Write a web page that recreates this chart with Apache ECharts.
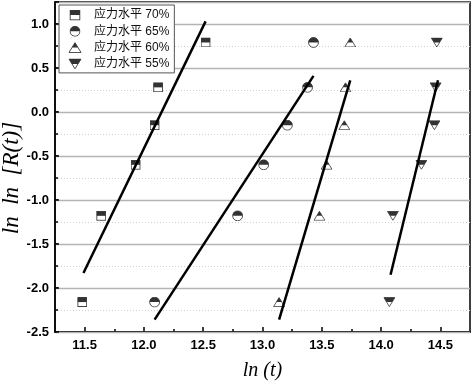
<!DOCTYPE html>
<html><head><meta charset="utf-8">
<script src="https://cdn.jsdelivr.net/npm/echarts@6/dist/echarts.min.js"></script>
<style>html,body{margin:0;padding:0;background:#fff}#c{width:472px;height:386px}</style>
</head><body><div id="c"></div>
<script>
// ---- data ----
const seriesNames = ['应力水平 70%', '应力水平 65%', '应力水平 60%', '应力水平 55%'];
const lnlnR = [-2.16, -1.18, -0.60, -0.15, 0.28, 0.79];
const lnT70 = [11.48, 11.64, 11.93, 12.09, 12.12, 12.52];
const lnT65 = [12.09, 12.79, 13.01, 13.21, 13.38, 13.43];
const lnT60 = [13.14, 13.48, 13.54, 13.69, 13.70, 13.74];
const lnT55 = [14.07, 14.10, 14.34, 14.45, 14.46, 14.47];
// fitted lines: [x start, x end], [y start, y end]
const fit70X = [11.49, 12.52], fit70Y = [-1.83, 1.03];
const fit65X = [12.09, 13.43], fit65Y = [-2.36, 0.41];
const fit60X = [13.14, 13.74], fit60Y = [-2.36, 0.36];
const fit55X = [14.08, 14.48], fit55Y = [-1.85, 0.36];
const xMajorTicks = [11.5, 12.0, 12.5, 13.0, 13.5, 14.0, 14.5];
const xMinorTicks = [11.75, 12.25, 12.75, 13.25, 13.75, 14.25];
const yTickLabels = [-2.5, -2.0, -1.5, -1.0, -0.5, 0.0, 0.5, 1.0];

function svgUrl(s){return 'image://data:image/svg+xml;charset=utf-8,' + encodeURIComponent(s);}
const W = 'xmlns="http://www.w3.org/2000/svg"';
const symSquare = svgUrl(`<svg ${W} width="20" height="20" viewBox="0 0 20 20"><rect x="1" y="1" width="18" height="18" fill="#fff" stroke="#000" stroke-width="2"/><rect x="1" y="1" width="18" height="9" fill="#000"/></svg>`);
const symCircle = svgUrl(`<svg ${W} width="20" height="20" viewBox="0 0 20 20"><circle cx="10" cy="10" r="9" fill="#fff" stroke="#000" stroke-width="1.6"/><path d="M1,10 A9,9 0 0 1 19,10 Z" fill="#000"/></svg>`);
const symUp = svgUrl(`<svg ${W} width="24" height="20" viewBox="0 0 24 20"><polygon points="12,1 23,19 1,19" fill="#fff" stroke="#000" stroke-width="1.6"/><polygon points="12,1 17.5,10 6.5,10" fill="#000"/></svg>`);
const symDown = svgUrl(`<svg ${W} width="24" height="20" viewBox="0 0 24 20"><polygon points="1,1 23,1 12,19" fill="#fff" stroke="#000" stroke-width="1.6"/><polygon points="1,1 23,1 17.5,10 6.5,10" fill="#000"/></svg>`);

const zip = (xs, ys) => xs.map((x, i) => [x, ys[i]]);
const FONT = '"Liberation Sans", "Noto Sans CJK SC", Arial, sans-serif';
const SERIF = '"Liberation Serif", "Times New Roman", serif';

const chart = echarts.init(document.getElementById('c'), null, {renderer: 'canvas'});
const scatter = (name, xs, sym, size) => ({
  name, type: 'scatter', data: zip(xs, lnlnR), symbol: sym, symbolSize: size,
  xAxisIndex: 0, yAxisIndex: 0, z: 3, emphasis: {disabled: true}
});
const line = (name, xs, ys) => ({
  name, type: 'line', data: zip(xs, ys), showSymbol: false, symbol: 'none',
  lineStyle: {color: '#000', width: 2.5}, z: 4, xAxisIndex: 0, yAxisIndex: 0,
  emphasis: {disabled: true}
});

chart.setOption({
  animation: false,
  backgroundColor: '#fff',
  grid: {left: 55, right: 2, top: 2, bottom: 54, show: true, borderColor: '#000', borderWidth: 1.5, containLabel: false},
  legend: {
    data: seriesNames, orient: 'vertical', left: 59, top: 5,
    itemWidth: 28, itemHeight: 11, itemGap: 4.3,
    padding: [4, 5, 3, 2], backgroundColor: '#fff', borderColor: '#555', borderWidth: 1,
    textStyle: {fontFamily: FONT, fontSize: 12, color: '#111'}, selectedMode: false
  },
  xAxis: [{
    type: 'value', min: 11.25, max: 14.75, interval: 0.25,
    axisLine: {onZero: false, lineStyle: {color: '#000', width: 1.5}},
    axisTick: {inside: true, length: 5, customValues: xMajorTicks, lineStyle: {color: '#000', width: 1.5}},
    axisLabel: {customValues: xMajorTicks, color: '#000', fontFamily: FONT, fontSize: 13, fontWeight: 'bold', margin: 7,
      formatter: v => v.toFixed(1)},
    splitLine: {show: false},
    name: 'ln (t)', nameLocation: 'middle', nameGap: 29,
    nameTextStyle: {fontFamily: SERIF, fontStyle: 'italic', fontSize: 20, color: '#000'}
  }, {
    type: 'value', min: 11.25, max: 14.75, interval: 0.25, position: 'bottom',
    axisLine: {show: false, onZero: false},
    axisTick: {inside: true, length: 3, customValues: xMinorTicks, lineStyle: {color: '#000', width: 1.5}},
    axisLabel: {show: false}, splitLine: {show: false}
  }],
  yAxis: [{
    type: 'value', min: -2.5, max: 1.25, interval: 0.5, z: 2,
    axisLine: {onZero: false, lineStyle: {color: '#000', width: 1.5}},
    axisTick: {inside: true, length: 4, lineStyle: {color: '#000', width: 1.5}},
    axisLabel: {color: '#000', fontFamily: FONT, fontSize: 13, fontWeight: 'bold', margin: 6,
      formatter: v => yTickLabels.some(t => Math.abs(t - v) < 1e-6) ? v.toFixed(1) : ''},
    splitLine: {show: true, lineStyle: {color: '#b4b4b4', width: 1.3, type: 'solid'}}
  }, {
    type: 'value', min: -2.5, max: 1.25, interval: 0.25, position: 'left', z: 1,
    axisLine: {show: false, onZero: false},
    axisTick: {show: true, inside: true, length: 3, lineStyle: {color: '#000', width: 1.5}},
    axisLabel: {show: false},
    splitLine: {show: true, lineStyle: {color: '#d0d0d0', width: 1, type: [1, 2]}}
  }],
  graphic: [{
    type: 'text', x: 12, y: 178, rotation: Math.PI / 2,
    style: {text: 'ln  ln  [R(t)]', font: 'italic 23px "Liberation Serif", "Times New Roman", serif', fill: '#000',
      textAlign: 'center', textVerticalAlign: 'middle'}
  }],
  series: [
    scatter(seriesNames[0], lnT70, symSquare, [10, 10]),
    scatter(seriesNames[1], lnT65, symCircle, [11, 11]),
    scatter(seriesNames[2], lnT60, symUp, [12, 10]),
    scatter(seriesNames[3], lnT55, symDown, [12, 10]),
    line('fit70', fit70X, fit70Y),
    line('fit65', fit65X, fit65Y),
    line('fit60', fit60X, fit60Y),
    line('fit55', fit55X, fit55Y)
  ]
});
</script></body></html>
